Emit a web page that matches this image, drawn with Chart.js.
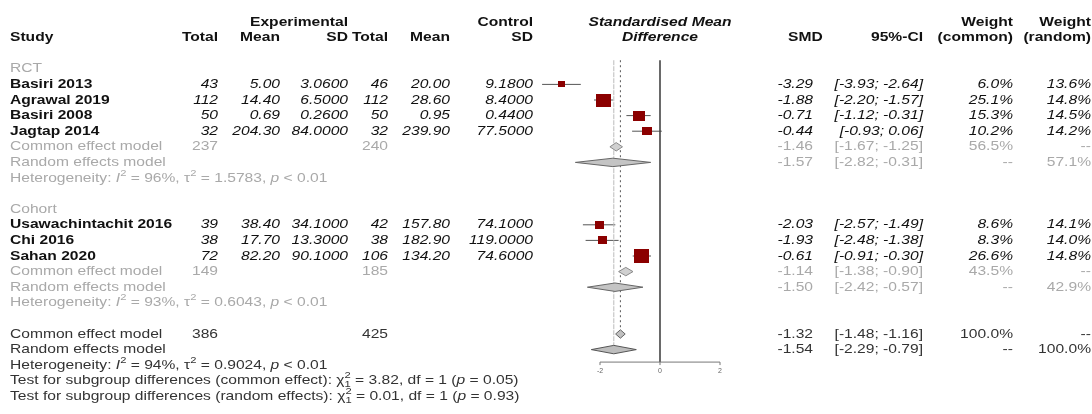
<!DOCTYPE html>
<html><head><meta charset="utf-8">
<script src="https://cdn.jsdelivr.net/npm/chart.js@4.4.1/dist/chart.umd.min.js"></script>
<style>html,body{margin:0;padding:0;background:#fff;}#wrap{width:1092px;height:414px;position:relative;}</style>
</head><body><div id="wrap"><canvas id="c"></canvas></div>
<script>
// ---------------- data ----------------
const groups = ["RCT", "Cohort"];
const studyNames = ["Basiri 2013", "Agrawal 2019", "Basiri 2008", "Jagtap 2014", "Usawachintachit 2016", "Chi 2016", "Sahan 2020"];
const studyGroup = [0, 0, 0, 0, 1, 1, 1];
const expTotal = [43, 112, 50, 32, 39, 38, 72];
const expMean = [5.00, 14.40, 0.69, 204.30, 38.40, 17.70, 82.20];
const expSD = [3.06, 6.5, 0.26, 84.0, 34.1, 13.3, 90.1];
const ctlTotal = [46, 112, 50, 32, 42, 38, 106];
const ctlMean = [20.00, 28.60, 0.95, 239.90, 157.80, 182.90, 134.20];
const ctlSD = [9.18, 8.4, 0.44, 77.5, 74.1, 119.0, 74.6];
const smd = [-3.29, -1.88, -0.71, -0.44, -2.03, -1.93, -0.61];
const ciLower = [-3.93, -2.20, -1.12, -0.93, -2.57, -2.48, -0.91];
const ciUpper = [-2.64, -1.57, -0.31, 0.06, -1.49, -1.38, -0.30];
const weightCommon = [6.0, 25.1, 15.3, 10.2, 8.6, 8.3, 26.6];
const weightRandom = [13.6, 14.8, 14.5, 14.2, 14.1, 14.0, 14.8];

const groupExpTotal = [237, 149];
const groupCtlTotal = [240, 185];
const groupCommonEst = [-1.46, -1.14];
const groupCommonLo = [-1.67, -1.38];
const groupCommonHi = [-1.25, -0.90];
const groupCommonW = [56.5, 43.5];
const groupRandomEst = [-1.57, -1.50];
const groupRandomLo = [-2.82, -2.42];
const groupRandomHi = [-0.31, -0.57];
const groupRandomW = [57.1, 42.9];
const groupI2 = ["96%", "93%"];
const groupTau2 = ["1.5783", "0.6043"];
const groupP = ["< 0.01", "< 0.01"];

const overallExpTotal = 386;
const overallCtlTotal = 425;
const overallCommon = [-1.32, -1.48, -1.16];
const overallRandom = [-1.54, -2.29, -0.79];
const overallI2 = "94%";
const overallTau2 = "0.9024";
const overallP = "< 0.01";
const testCommon = ["3.82", "1", "0.05"];
const testRandom = ["0.01", "1", "0.93"];
const xTicks = [-2, 0, 2];

// ---------------- layout (rows) ----------------
const studyRow = [], groupHeaderRow = [], groupCommonRow = [], groupRandomRow = [], groupHetRow = [];
let r = 3;
groups.forEach((g, gi) => {
  groupHeaderRow[gi] = r++;
  studyNames.forEach((s, si) => { if (studyGroup[si] === gi) studyRow[si] = r++; });
  groupCommonRow[gi] = r++;
  groupRandomRow[gi] = r++;
  groupHetRow[gi] = r++;
  r++;
});
const overallCommonRow = r, overallRandomRow = r + 1, overallHetRow = r + 2, testCommonRow = r + 3, testRandomRow = r + 4;
const NROWS = r + 4;

const FAM = '"Liberation Sans", Arial, Helvetica, sans-serif';
const FS = 13, SX = 1.2;
const BLACK = '#111', LGRAY = '#A9A9A9', DGRAY = '#333';
const DH = 0.27; // diamond half height in rows

// square markers (slightly wider than tall, like the reference)
const boxes = weightCommon.map(w => {
  const c = document.createElement('canvas');
  const bw = Math.round(3.0 * Math.sqrt(w)), bh = Math.round(2.65 * Math.sqrt(w));
  c.width = bw; c.height = bh;
  const g = c.getContext('2d'); g.fillStyle = '#8B0000'; g.fillRect(0, 0, bw, bh);
  return c;
});

const datasets = [];
datasets.push({
  label: 'studies', data: smd.map((v, i) => ({x: v, y: studyRow[i]})),
  pointStyle: boxes, pointRadius: 6, backgroundColor: '#8B0000', order: 0, clip: false
});
smd.forEach((v, i) => datasets.push({
  type: 'line', data: [{x: ciLower[i], y: studyRow[i]}, {x: ciUpper[i], y: studyRow[i]}],
  borderColor: '#555', borderWidth: 1, pointRadius: 0, order: 3, clip: false
}));
function diamond(est, lo, hi, row, fillc, linec) {
  datasets.push({
    type: 'line', data: [{x: lo, y: row}, {x: est, y: row - DH}, {x: hi, y: row}, {x: est, y: row + DH}, {x: lo, y: row}],
    borderColor: linec, borderWidth: 1, backgroundColor: fillc, fill: 'shape', pointRadius: 0, tension: 0, order: 1, clip: false
  });
}
groups.forEach((g, gi) => {
  diamond(groupCommonEst[gi], groupCommonLo[gi], groupCommonHi[gi], groupCommonRow[gi], '#D0D0D0', '#8A8A8A');
  diamond(groupRandomEst[gi], groupRandomLo[gi], groupRandomHi[gi], groupRandomRow[gi], '#C4C4C4', '#666');
});
diamond(overallCommon[0], overallCommon[1], overallCommon[2], overallCommonRow, '#C0C0C0', '#666');
diamond(overallRandom[0], overallRandom[1], overallRandom[2], overallRandomRow, '#BDBDBD', '#555');
// reference lines
const TOPROW = 2.45, AXISROW = 21.8;
datasets.push({type: 'line', data: [{x: 0, y: TOPROW}, {x: 0, y: AXISROW}], borderColor: '#444', borderWidth: 1.6, pointRadius: 0, order: 2});
datasets.push({type: 'line', data: [{x: overallCommon[0], y: TOPROW}, {x: overallCommon[0], y: overallCommonRow - DH}], borderColor: '#555', borderWidth: 1, borderDash: [2, 3], pointRadius: 0, order: 2});
datasets.push({type: 'line', data: [{x: overallRandom[0], y: TOPROW}, {x: overallRandom[0], y: overallRandomRow - DH}], borderColor: '#BBB', borderWidth: 1, borderDash: [5, 1], pointRadius: 0, order: 2});

function txt(ctx, t, x, y, align, font, color) {
  ctx.save();
  ctx.font = font; ctx.fillStyle = color; ctx.textAlign = align; ctx.textBaseline = 'middle';
  ctx.translate(x, y); ctx.scale(SX, 1); ctx.fillText(t, 0, 0);
  ctx.restore();
}
function rich(ctx, x, y, segs, color) {
  let cx = x;
  segs.forEach(s => {
    const small = s.sup || s.sub;
    const size = small ? FS * 0.72 : FS;
    const font = (s.i ? 'italic ' : '') + size + 'px ' + FAM;
    const dy = s.sup ? -FS * 0.38 : (s.sub ? FS * 0.3 : 0);
    ctx.save();
    ctx.font = font; ctx.fillStyle = color; ctx.textAlign = 'left'; ctx.textBaseline = 'middle';
    const w = ctx.measureText(s.t).width * SX;
    ctx.translate(cx, y + dy); ctx.scale(SX, 1); ctx.fillText(s.t, 0, 0);
    ctx.restore();
    if (!s.noadv) cx += w;
  });
}
function hetSegs(i2, tau2, p) {
  return [{t: 'Heterogeneity: '}, {t: 'I', i: true}, {t: '2', sup: true}, {t: ' = ' + i2 + ', '}, {t: 'τ'}, {t: '2', sup: true},
    {t: ' = ' + tau2 + ', '}, {t: 'p', i: true}, {t: ' ' + p}];
}
function testSegs(kind, t) {
  return [{t: 'Test for subgroup differences (' + kind + '): '}, {t: 'χ'}, {t: '2', sup: true, noadv: true}, {t: t[1], sub: true},
    {t: ' = ' + t[0] + ', df = ' + t[1] + ' ('}, {t: 'p', i: true}, {t: ' = ' + t[2] + ')'}];
}

const tablePlugin = {
  id: 'table',
  beforeDraw(chart) {
    const c = chart.ctx; c.save(); c.fillStyle = '#fff'; c.fillRect(0, 0, chart.width, chart.height); c.restore();
  },
  afterDraw(chart) {
    const ctx = chart.ctx, ys = chart.scales.y, xs = chart.scales.x;
    const Y = k => ys.getPixelForValue(k);
    const B = 'bold ' + FS + 'px ' + FAM, N = FS + 'px ' + FAM, I = 'italic ' + FS + 'px ' + FAM, BI = 'italic bold ' + FS + 'px ' + FAM;
    const col = {study: 10, eT: 218, eM: 280, eS: 348, cT: 388, cM: 450, cS: 533, mid: 660, smd: 813, smdH: 788, ci: 923, wc: 1013, wr: 1091};
    // header
    txt(ctx, 'Experimental', col.eS, Y(0), 'right', B, BLACK);
    txt(ctx, 'Control', col.cS, Y(0), 'right', B, BLACK);
    txt(ctx, 'Standardised Mean', col.mid, Y(0), 'center', BI, BLACK);
    txt(ctx, 'Weight', col.wc, Y(0), 'right', B, BLACK);
    txt(ctx, 'Weight', col.wr, Y(0), 'right', B, BLACK);
    txt(ctx, 'Study', col.study, Y(1), 'left', B, BLACK);
    [['Total', col.eT], ['Mean', col.eM], ['SD', col.eS], ['Total', col.cT], ['Mean', col.cM], ['SD', col.cS]].forEach(h => txt(ctx, h[0], h[1], Y(1), 'right', B, BLACK));
    txt(ctx, 'Difference', col.mid, Y(1), 'center', BI, BLACK);
    txt(ctx, 'SMD', col.smdH, Y(1), 'left', B, BLACK);
    txt(ctx, '95%-CI', col.ci, Y(1), 'right', B, BLACK);
    txt(ctx, '(common)', col.wc, Y(1), 'right', B, BLACK);
    txt(ctx, '(random)', col.wr, Y(1), 'right', B, BLACK);
    const ci = (lo, hi) => '[' + lo.toFixed(2) + '; ' + hi.toFixed(2) + ']';
    // studies
    studyNames.forEach((s, i) => {
      const y = Y(studyRow[i]);
      txt(ctx, s, col.study, y, 'left', B, BLACK);
      txt(ctx, String(expTotal[i]), col.eT, y, 'right', I, BLACK);
      txt(ctx, expMean[i].toFixed(2), col.eM, y, 'right', I, BLACK);
      txt(ctx, expSD[i].toFixed(4), col.eS, y, 'right', I, BLACK);
      txt(ctx, String(ctlTotal[i]), col.cT, y, 'right', I, BLACK);
      txt(ctx, ctlMean[i].toFixed(2), col.cM, y, 'right', I, BLACK);
      txt(ctx, ctlSD[i].toFixed(4), col.cS, y, 'right', I, BLACK);
      txt(ctx, smd[i].toFixed(2), col.smd, y, 'right', I, BLACK);
      txt(ctx, ci(ciLower[i], ciUpper[i]), col.ci, y, 'right', I, BLACK);
      txt(ctx, weightCommon[i].toFixed(1) + '%', col.wc, y, 'right', I, BLACK);
      txt(ctx, weightRandom[i].toFixed(1) + '%', col.wr, y, 'right', I, BLACK);
    });
    // subgroups
    groups.forEach((g, gi) => {
      txt(ctx, g, col.study, Y(groupHeaderRow[gi]), 'left', N, LGRAY);
      let y = Y(groupCommonRow[gi]);
      txt(ctx, 'Common effect model', col.study, y, 'left', N, LGRAY);
      txt(ctx, String(groupExpTotal[gi]), col.eT, y, 'right', N, LGRAY);
      txt(ctx, String(groupCtlTotal[gi]), col.cT, y, 'right', N, LGRAY);
      txt(ctx, groupCommonEst[gi].toFixed(2), col.smd, y, 'right', N, LGRAY);
      txt(ctx, ci(groupCommonLo[gi], groupCommonHi[gi]), col.ci, y, 'right', N, LGRAY);
      txt(ctx, groupCommonW[gi].toFixed(1) + '%', col.wc, y, 'right', N, LGRAY);
      txt(ctx, '--', col.wr, y, 'right', N, LGRAY);
      y = Y(groupRandomRow[gi]);
      txt(ctx, 'Random effects model', col.study, y, 'left', N, LGRAY);
      txt(ctx, groupRandomEst[gi].toFixed(2), col.smd, y, 'right', N, LGRAY);
      txt(ctx, ci(groupRandomLo[gi], groupRandomHi[gi]), col.ci, y, 'right', N, LGRAY);
      txt(ctx, '--', col.wc, y, 'right', N, LGRAY);
      txt(ctx, groupRandomW[gi].toFixed(1) + '%', col.wr, y, 'right', N, LGRAY);
      rich(ctx, col.study, Y(groupHetRow[gi]), hetSegs(groupI2[gi], groupTau2[gi], groupP[gi]), LGRAY);
    });
    // overall
    let y = Y(overallCommonRow);
    txt(ctx, 'Common effect model', col.study, y, 'left', N, DGRAY);
    txt(ctx, String(overallExpTotal), col.eT, y, 'right', N, DGRAY);
    txt(ctx, String(overallCtlTotal), col.cT, y, 'right', N, DGRAY);
    txt(ctx, overallCommon[0].toFixed(2), col.smd, y, 'right', N, DGRAY);
    txt(ctx, ci(overallCommon[1], overallCommon[2]), col.ci, y, 'right', N, DGRAY);
    txt(ctx, '100.0%', col.wc, y, 'right', N, DGRAY);
    txt(ctx, '--', col.wr, y, 'right', N, DGRAY);
    y = Y(overallRandomRow);
    txt(ctx, 'Random effects model', col.study, y, 'left', N, DGRAY);
    txt(ctx, overallRandom[0].toFixed(2), col.smd, y, 'right', N, DGRAY);
    txt(ctx, ci(overallRandom[1], overallRandom[2]), col.ci, y, 'right', N, DGRAY);
    txt(ctx, '--', col.wc, y, 'right', N, DGRAY);
    txt(ctx, '100.0%', col.wr, y, 'right', N, DGRAY);
    rich(ctx, col.study, Y(overallHetRow), hetSegs(overallI2, overallTau2, overallP), DGRAY);
    rich(ctx, col.study, Y(testCommonRow), testSegs('common effect', testCommon), DGRAY);
    rich(ctx, col.study, Y(testRandomRow), testSegs('random effects', testRandom), DGRAY);
    // x axis
    const ay = Y(AXISROW);
    ctx.save();
    ctx.strokeStyle = '#777'; ctx.lineWidth = 1;
    ctx.beginPath();
    ctx.moveTo(xs.getPixelForValue(xTicks[0]), ay); ctx.lineTo(xs.getPixelForValue(xTicks[xTicks.length - 1]), ay);
    xTicks.forEach(t => { const px = xs.getPixelForValue(t); ctx.moveTo(px, ay); ctx.lineTo(px, ay + 3); });
    ctx.stroke();
    ctx.restore();
    xTicks.forEach(t => {
      ctx.save(); ctx.font = '7px ' + FAM; ctx.fillStyle = '#666'; ctx.textAlign = 'center'; ctx.textBaseline = 'top';
      ctx.fillText(String(t), xs.getPixelForValue(t), ay + 5); ctx.restore();
    });
  }
};

const X0 = 660, PXU = 30, XMIN = -4, XMAX = 4;
const TOPPX = 22, ROWPX = 15.6;
new Chart(document.getElementById('c'), {
  type: 'scatter',
  data: {datasets},
  options: {
    responsive: true, maintainAspectRatio: false, animation: false, devicePixelRatio: 1,
    layout: {padding: {left: X0 + XMIN * PXU, right: 1092 - (X0 + XMAX * PXU), top: TOPPX, bottom: 414 - (TOPPX + ROWPX * NROWS)}},
    scales: {
      x: {type: 'linear', min: XMIN, max: XMAX, display: false},
      y: {type: 'linear', min: 0, max: NROWS, reverse: true, display: false}
    },
    plugins: {legend: {display: false}, tooltip: {enabled: false}},
    elements: {line: {tension: 0}}
  },
  plugins: [tablePlugin]
});
</script></body></html>
